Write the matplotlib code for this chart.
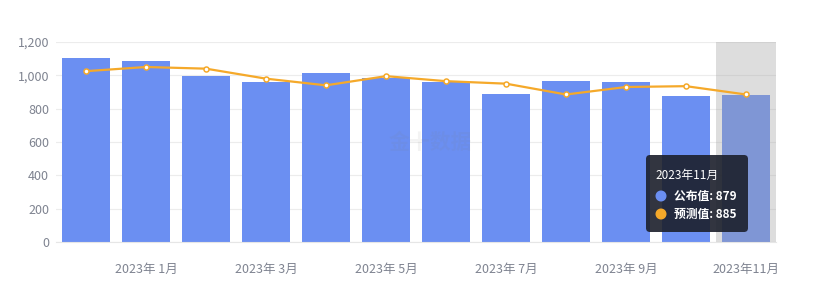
import matplotlib
matplotlib.use("Agg")
import matplotlib.pyplot as plt
from matplotlib.patches import FancyBboxPatch, Circle
from matplotlib.ticker import FuncFormatter

plt.rcParams['font.family'] = ['Noto Sans CJK SC', 'DejaVu Sans']

months = ["2022年12月", "2023年 1月", "2023年 2月", "2023年 3月", "2023年 4月", "2023年 5月",
          "2023年 6月", "2023年 7月", "2023年 8月", "2023年 9月", "2023年10月", "2023年11月"]
published = [1102, 1085, 996, 961, 1012, 985, 961, 885, 965, 957, 875, 879]
forecast = [1025, 1050, 1040, 980, 940, 995, 965, 950, 885, 930, 935, 885]
tick_labels = ["2023年 1月", "2023年 3月", "2023年 5月", "2023年 7月", "2023年 9月", "2023年11月"]
tick_pos = [1, 3, 5, 7, 9, 11]
yticks = [0, 200, 400, 600, 800, 1000, 1200]

W, H = 820, 288
fig = plt.figure(figsize=(W / 100, H / 100), dpi=100)
ax = fig.add_axes([56 / W, 46 / H, 720 / W, 200 / H])

x = list(range(len(months)))
ax.bar(x, published, width=0.8, color="#6b8ff2", zorder=2)
ax.plot(x, forecast, color="#f5a92a", lw=1.6, zorder=4,
        marker="o", ms=3.6, mfc="white", mec="#f5a92a", mew=1.1)
ax.axvspan(10.5, 11.5, color="#a3a3a3", alpha=0.36, lw=0, zorder=3)

ax.set_xlim(-0.5, 11.5)
ax.set_ylim(0, 1200)
ax.set_yticks(yticks)
ax.yaxis.set_major_formatter(FuncFormatter(lambda v, p: f"{int(v):,}"))
ax.set_xticks(tick_pos)
ax.set_xticklabels(tick_labels)
ax.tick_params(axis="both", length=0, colors="#7e8390", labelsize=9)
ax.tick_params(axis="x", pad=15)
ax.tick_params(axis="y", pad=5)
ax.grid(axis="y", color="#ececec", lw=0.8, zorder=0)
ax.set_axisbelow(True)
for s in ["top", "right", "left"]:
    ax.spines[s].set_visible(False)
ax.spines["bottom"].set_color("#e6e6e6")

# watermark
ax.text(0.52, 0.5, "金十数据", transform=ax.transAxes, ha="center", va="center",
        fontsize=15, color="#808080", alpha=0.09, fontweight="bold", zorder=5)

# tooltip overlay in pixel space
ov = fig.add_axes([0, 0, 1, 1])
ov.set_xlim(0, W)
ov.set_ylim(H, 0)
ov.axis("off")
ov.add_patch(FancyBboxPatch((646, 155), 102, 77, boxstyle="round,pad=0,rounding_size=4",
                            fc="#1b1f2b", ec="none", alpha=0.9))
ov.text(655, 175, "2023年11月", color="white", fontsize=8.5, va="center", ha="left")
ov.add_patch(Circle((661, 196), 4.8, color="#6b8ff2"))
ov.add_patch(Circle((661, 214), 4.8, color="#f5a92a"))
ov.text(674, 196, f"公布值: {published[-1]}", color="white", fontsize=8.5, va="center",
        ha="left", fontweight="bold")
ov.text(674, 214, f"预测值: {forecast[-1]}", color="white", fontsize=8.5, va="center",
        ha="left", fontweight="bold")

fig.savefig("out.png", dpi=100)
